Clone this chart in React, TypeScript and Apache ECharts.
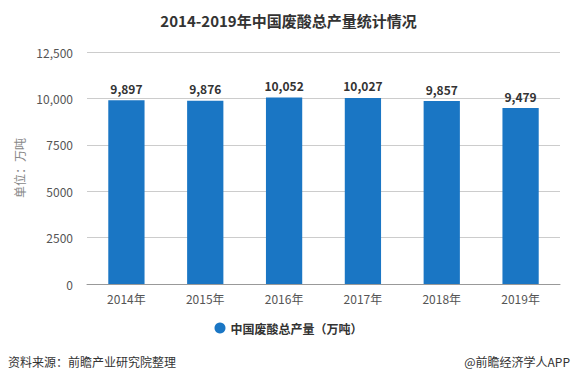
import React, { useEffect, useRef } from "react";
import * as echarts from "echarts";

const categories = ["2014年", "2015年", "2016年", "2017年", "2018年", "2019年"];
const values = [9897, 9876, 10052, 10027, 9857, 9479];
const yTickLabels: Record<number, string> = { 0: "0", 2500: "2500", 5000: "5000", 7500: "7500", 10000: "10,000", 12500: "12,500" };
const seriesName = "中国废酸总产量（万吨）";
const titleText = "2014-2019年中国废酸总产量统计情况";
const sourceText = "资料来源：前瞻产业研究院整理";
const brandText = "@前瞻经济学人APP";
const unitText = "单位：万吨";

export default function App() {
  const ref = useRef<HTMLDivElement>(null);
  useEffect(() => {
    if (!ref.current) return;
    const chart = echarts.init(ref.current, null, { renderer: "svg" });
    const font = "'Microsoft YaHei', 'Noto Sans CJK SC', sans-serif";
    chart.setOption({
      animation: false,
      textStyle: { fontFamily: font },
      title: {
        text: titleText,
        left: "center",
        top: 8,
        textStyle: { fontSize: 15, fontWeight: "bold", color: "#333", fontFamily: font },
      },
      legend: {
        data: [seriesName],
        bottom: 44,
        left: "center",
        icon: "circle",
        itemWidth: 11,
        itemHeight: 11,
        textStyle: { fontSize: 12, fontWeight: "bold", color: "#333" },
      },
      grid: { left: 87, right: 17, top: 52, bottom: 99, containLabel: false },
      xAxis: {
        type: "category",
        data: categories,
        axisLine: { lineStyle: { color: "#999" } },
        axisTick: { alignWithLabel: true, lineStyle: { color: "#999" } },
        axisLabel: { color: "#555", fontSize: 12, margin: 8 },
      },
      yAxis: {
        type: "value",
        min: 0,
        max: 12500,
        interval: 2500,
        name: unitText,
        nameLocation: "middle",
        nameGap: 54,
        nameTextStyle: { color: "#888", fontSize: 12 },
        axisLine: { show: false },
        axisTick: { show: false },
        axisLabel: { color: "#555", fontSize: 12, margin: 14, formatter: (v: number) => yTickLabels[v] ?? String(v) },
        splitLine: { lineStyle: { color: "#ccc" } },
      },
      series: [
        {
          name: seriesName,
          type: "bar",
          data: values,
          barWidth: "46%",
          itemStyle: { color: "#1a76c4" },
          label: {
            show: true,
            position: "top",
            distance: 6,
            color: "#333",
            fontWeight: "bold",
            fontSize: 12,
            formatter: (p: any) => Number(p.value).toLocaleString("en-US"),
          },
        },
      ],
      graphic: [
        { type: "text", left: 8, top: 355, style: { text: sourceText, fontSize: 12, fill: "#333", fontFamily: font } },
        { type: "text", right: 7, top: 355, style: { text: brandText, fontSize: 12, fill: "#333", fontFamily: font } },
      ],
    });
    return () => chart.dispose();
  }, []);
  return <div ref={ref} style={{ position: "fixed", left: 0, top: 0, width: 577, height: 383, background: "#fff" }} />;
}
